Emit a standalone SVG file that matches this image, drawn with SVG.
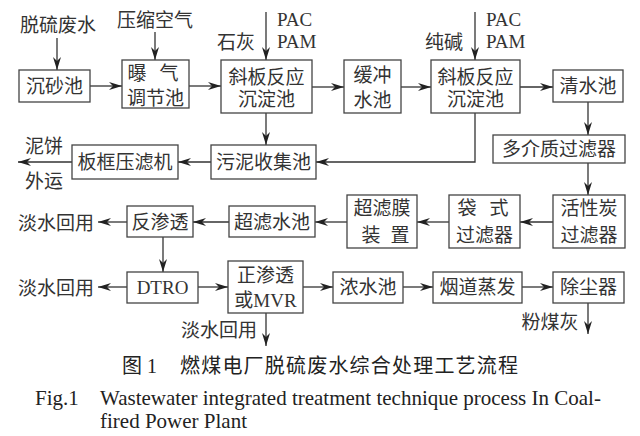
<svg xmlns="http://www.w3.org/2000/svg" width="640" height="436" viewBox="0 0 640 436">
<defs>
<style>
text{font-family:"Liberation Serif","Noto Sans CJK SC",serif;font-size:19px;fill:#333;text-anchor:middle}
.l{text-anchor:start}
.box{fill:#fff;stroke:#444;stroke-width:1.3}
.c{fill:none;stroke:#333;stroke-width:1.3;marker-end:url(#ah)}
.cap{font-family:"Noto Sans CJK SC",sans-serif;font-size:20px;fill:#222;letter-spacing:1.2px}
.en{font-family:"Liberation Serif",serif;font-size:21px;fill:#222;text-anchor:start}
</style>
<marker id="ah" markerWidth="14" markerHeight="10" refX="13" refY="5" orient="auto" markerUnits="userSpaceOnUse">
<path d="M0,1 L13,5 L0,9 L4,5 Z" fill="#222"/>
</marker>
</defs>
<rect width="640" height="436" fill="#fff"/>

<g id="connectors">
<path class="c" d="M57,38 V70"/>
<path class="c" d="M155,32 V60"/>
<path class="c" d="M266,12 V60"/>
<path class="c" d="M475,12 V60"/>
<path class="c" d="M90,86 H122"/>
<path class="c" d="M189,86 H221"/>
<path class="c" d="M312,87 H344"/>
<path class="c" d="M401,87 H431"/>
<path class="c" d="M520,87 H553"/>
<path class="c" d="M588,102 V135"/>
<path class="c" d="M266,113 V145"/>
<path class="c" d="M475,113 V162 H316"/>
<path class="c" d="M211,162 H178"/>
<path class="c" d="M72,162 H18"/>
<path class="c" d="M588,163 V195"/>
<path class="c" d="M553,222 H520"/>
<path class="c" d="M449,222 H417"/>
<path class="c" d="M347,222 H315"/>
<path class="c" d="M229,222 H193"/>
<path class="c" d="M127,222 H98"/>
<path class="c" d="M163,237 V272"/>
<path class="c" d="M127,287 H98"/>
<path class="c" d="M198,287 H228"/>
<path class="c" d="M266,313 V346"/>
<path class="c" d="M303,287 H333"/>
<path class="c" d="M403,287 H433"/>
<path class="c" d="M522,287 H553"/>
<path class="c" d="M588,303 V334"/>
</g>

<g id="labels">
<text x="58" y="32">脱硫废水</text>
<text x="155" y="27">压缩空气</text>
<text x="236" y="49">石灰</text>
<text x="277" y="26" class="l">PAC</text>
<text x="277" y="48" class="l">PAM</text>
<text x="444" y="49">纯碱</text>
<text x="486" y="26" class="l">PAC</text>
<text x="486" y="48" class="l">PAM</text>
<text x="44" y="153">泥饼</text>
<text x="44" y="188">外运</text>
<text x="56" y="230">淡水回用</text>
<text x="56" y="295">淡水回用</text>
<text x="219" y="337">淡水回用</text>
<text x="550" y="329">粉煤灰</text>
</g>

<g id="n1"><rect class="box" x="19" y="70" width="71" height="32"/><text x="54.5" y="93">沉砂池</text></g>
<g id="n2"><rect class="box" x="122" y="60" width="67" height="48"/><text x="137" y="80">曝</text><text x="169" y="80">气</text><text x="155.5" y="105">调节池</text></g>
<g id="n3"><rect class="box" x="221" y="60" width="91" height="53"/><text x="266.5" y="84">斜板反应</text><text x="266.5" y="106">沉淀池</text></g>
<g id="n4"><rect class="box" x="344" y="60" width="57" height="53"/><text x="372.5" y="82">缓冲</text><text x="372.5" y="107">水池</text></g>
<g id="n5"><rect class="box" x="431" y="60" width="89" height="53"/><text x="475.5" y="84">斜板反应</text><text x="475.5" y="106">沉淀池</text></g>
<g id="n6"><rect class="box" x="553" y="70" width="70" height="32"/><text x="588" y="93">清水池</text></g>
<g id="n7"><rect class="box" x="493" y="135" width="132" height="28"/><text x="559" y="156">多介质过滤器</text></g>
<g id="n8"><rect class="box" x="211" y="145" width="105" height="34"/><text x="263.5" y="169">污泥收集池</text></g>
<g id="n9"><rect class="box" x="72" y="145" width="106" height="34"/><text x="125" y="169">板框压滤机</text></g>
<g id="n10"><rect class="box" x="553" y="195" width="72" height="53"/><text x="589" y="215">活性炭</text><text x="589" y="242">过滤器</text></g>
<g id="n11"><rect class="box" x="449" y="195" width="71" height="53"/><text x="467" y="215">袋</text><text x="499" y="215">式</text><text x="484.5" y="242">过滤器</text></g>
<g id="n12"><rect class="box" x="347" y="195" width="70" height="53"/><text x="382" y="215">超滤膜</text><text x="371" y="242">装</text><text x="400" y="242">置</text></g>
<g id="n13"><rect class="box" x="229" y="206" width="86" height="31"/><text x="272" y="229">超滤水池</text></g>
<g id="n14"><rect class="box" x="127" y="206" width="66" height="31"/><text x="160" y="229">反渗透</text></g>
<g id="n15"><rect class="box" x="127" y="272" width="71" height="31"/><text x="162.5" y="294">DTRO</text></g>
<g id="n16"><rect class="box" x="228" y="261" width="75" height="52"/><text x="265.5" y="282">正渗透</text><text x="265.5" y="307">或MVR</text></g>
<g id="n17"><rect class="box" x="333" y="272" width="70" height="31"/><text x="368" y="294">浓水池</text></g>
<g id="n18"><rect class="box" x="433" y="272" width="89" height="31"/><text x="477.5" y="294">烟道蒸发</text></g>
<g id="n19"><rect class="box" x="553" y="272" width="71" height="31"/><text x="588.5" y="294">除尘器</text></g>

<g id="caption">
<text class="cap" x="122" y="373" text-anchor="start" style="text-anchor:start">图</text>
<text x="147" y="373" class="l" style="font-size:20px;fill:#222">1</text>
<text class="cap" x="180" y="373" style="text-anchor:start">燃煤电厂脱硫废水综合处理工艺流程</text>
<text class="en" x="35" y="405">Fig.1</text>
<text class="en" x="100" y="405">Wastewater integrated treatment technique process In Coal-</text>
<text class="en" x="100" y="428">fired Power Plant</text>
</g>
</svg>
